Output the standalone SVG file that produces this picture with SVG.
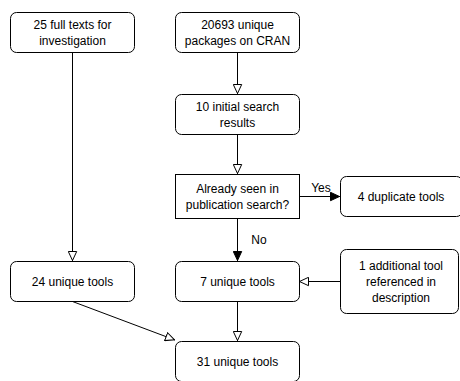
<svg xmlns="http://www.w3.org/2000/svg" width="460" height="381" viewBox="0 0 460 381">
<style>
.box{fill:#fff;stroke:#000;stroke-width:1}
.t{font-family:"Liberation Sans",Arial,sans-serif;font-size:12px;fill:#000;text-anchor:middle}
.c{fill:none;stroke:#000;stroke-width:1}
</style>
<defs>
<marker id="open" viewBox="0 0 10 10" refX="10" refY="5" markerWidth="10" markerHeight="10" markerUnits="userSpaceOnUse" orient="auto">
<path d="M0.5,0.8 L9.5,5 L0.5,9.2 Z" fill="#fff" stroke="#000" stroke-width="1"/>
</marker>
<marker id="fill" viewBox="0 0 10 10" refX="10" refY="5" markerWidth="10" markerHeight="10" markerUnits="userSpaceOnUse" orient="auto">
<path d="M0.5,0.8 L9.5,5 L0.5,9.2 Z" fill="#000" stroke="#000" stroke-width="1"/>
</marker>
</defs>
<rect width="460" height="381" fill="#fff"/>
<g id="connectors">
<path class="c" d="M72.5,52.5 V261" marker-end="url(#open)"/>
<path class="c" d="M237.5,52.5 V94" marker-end="url(#open)"/>
<path class="c" d="M237.5,134.5 V174" marker-end="url(#open)"/>
<path class="c" d="M299,196.5 H340" marker-end="url(#fill)"/>
<text class="t" x="321" y="192">Yes</text>
<path class="c" d="M237.5,219 V261" marker-end="url(#fill)"/>
<text class="t" x="259" y="244">No</text>
<path class="c" d="M340,281.5 H299" marker-end="url(#open)"/>
<path class="c" d="M237.5,301.5 V341" marker-end="url(#open)"/>
<path class="c" d="M72.5,301.5 L175,340" marker-end="url(#open)"/>
</g>
<g id="n1">
<rect class="box" x="10.5" y="12.5" width="124" height="40" rx="6"/>
<text class="t" x="72.5" y="29">25 full texts for</text>
<text class="t" x="72.5" y="45">investigation</text>
</g>
<g id="n2">
<rect class="box" x="175.5" y="12.5" width="124" height="40" rx="6"/>
<text class="t" x="237.5" y="29">20693 unique</text>
<text class="t" x="237.5" y="45">packages on CRAN</text>
</g>
<g id="n3">
<rect class="box" x="175.5" y="94.5" width="124" height="40" rx="6"/>
<text class="t" x="237.5" y="111">10 initial search</text>
<text class="t" x="237.5" y="127">results</text>
</g>
<g id="n4">
<rect class="box" x="175.5" y="174.5" width="124" height="44"/>
<text class="t" x="237.5" y="193">Already seen in</text>
<text class="t" x="237.5" y="209">publication search?</text>
</g>
<g id="n5">
<rect class="box" x="340.5" y="176.5" width="122" height="40" rx="6"/>
<text class="t" x="401" y="201">4 duplicate tools</text>
</g>
<g id="n6">
<rect class="box" x="10.5" y="261.5" width="124" height="40" rx="6"/>
<text class="t" x="72.5" y="286">24 unique tools</text>
</g>
<g id="n7">
<rect class="box" x="175.5" y="261.5" width="124" height="40" rx="6"/>
<text class="t" x="237.5" y="286">7 unique tools</text>
</g>
<g id="n8">
<rect class="box" x="340.5" y="249.5" width="118" height="64" rx="6"/>
<text class="t" x="401" y="270">1 additional tool</text>
<text class="t" x="401" y="286">referenced in</text>
<text class="t" x="401" y="302">description</text>
</g>
<g id="n9">
<rect class="box" x="175.5" y="341.5" width="124" height="40" rx="6"/>
<text class="t" x="237.5" y="366">31 unique tools</text>
</g>
</svg>
